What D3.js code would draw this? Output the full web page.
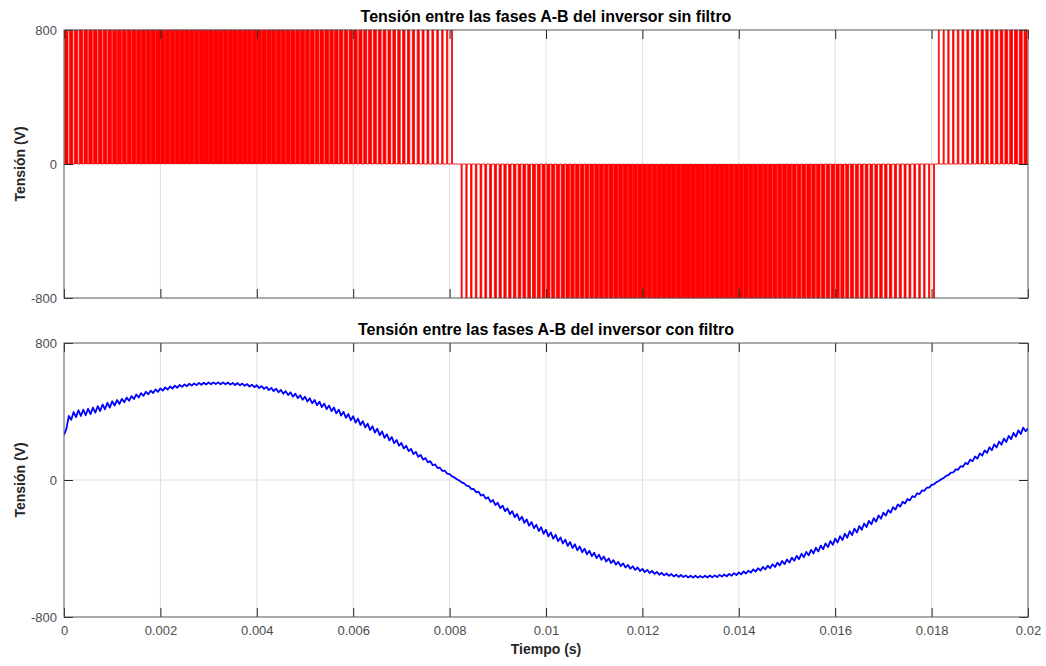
<!DOCTYPE html>
<html lang="es">
<head>
<meta charset="UTF-8">
<title>Tensión entre las fases A-B</title>
<script src="https://cdn.jsdelivr.net/npm/d3@7"></script>
<style>
    * { margin: 0; padding: 0; }
    body { background: #fff; }
    svg { display: block; font-family: "Liberation Sans", Arial, sans-serif; }
</style>
</head>
<body>
<svg></svg>
<script>
    // ---- data ----
    const xTicks = [0, 0.002, 0.004, 0.006, 0.008, 0.01, 0.012, 0.014, 0.016, 0.018, 0.02];
    const yTicks = [-800, 0, 800];
    const vdc = 800;             // pulse height (V)
    const pwmPeriod = 0.0001;    // one pulse slot per 0.1 ms
    // signed duty of each slot: + pulse to +800 V, - pulse to -800 V
    const pwmDuty = [
        .65, .66, .68, .69, .71, .72, .73, .75, .76, .77, .78, .79, .81, .82, .83, .84, .84, .85, .86, .86,
        .87, .87, .88, .88, .89, .89, .89, .90, .90, .90, .90, .90, .90, .90, .90, .89, .89, .89, .88, .88,
        .87, .87, .86, .86, .85, .85, .84, .83, .82, .81, .80, .79, .78, .77, .76, .74, .73, .72, .70, .69,
        .67, .66, .64, .62, .61, .59, .58, .56, .54, .52, .50, .48, .45, .43, .40, .38, .35, .32, .29, .25,
        .21, 0, -.22, -.26, -.29, -.33, -.36, -.38, -.41, -.44, -.46, -.48, -.50, -.52, -.55, -.57, -.58, -.60, -.61, -.63,
        -.65, -.66, -.68, -.69, -.71, -.72, -.73, -.75, -.76, -.77, -.78, -.79, -.81, -.82, -.83, -.84, -.84, -.85, -.86, -.86,
        -.87, -.87, -.88, -.88, -.89, -.89, -.89, -.90, -.90, -.90, -.90, -.90, -.90, -.90, -.90, -.89, -.89, -.89, -.88, -.88,
        -.87, -.87, -.86, -.86, -.85, -.85, -.84, -.83, -.82, -.81, -.80, -.79, -.78, -.77, -.76, -.74, -.73, -.72, -.70, -.69,
        -.67, -.66, -.64, -.62, -.61, -.59, -.58, -.56, -.54, -.52, -.50, -.48, -.45, -.43, -.40, -.38, -.35, -.32, -.29, -.25,
        -.21, .18, .22, .26, .29, .33, .36, .38, .41, .44, .46, .48, .50, .52, .55, .57, .58, .60, .61, .63
    ];
    const filtStep = 0.00005;    // filtered voltage sampled every 0.05 ms
    const filtV = [
        263, 300, 374, 352, 397, 367, 407, 374, 411, 378, 416, 385, 423, 393, 431, 403, 441, 413, 451, 423,
        460, 434, 467, 444, 474, 454, 481, 463, 490, 473, 499, 482, 507, 491, 515, 500, 522, 508, 529, 515,
        535, 522, 541, 528, 546, 534, 551, 539, 555, 544, 558, 548, 562, 551, 564, 554, 567, 556, 568, 558,
        570, 559, 570, 560, 570, 559, 570, 559, 569, 557, 567, 555, 566, 553, 563, 550, 560, 546, 557, 542,
        553, 537, 548, 532, 544, 525, 538, 519, 533, 512, 526, 504, 519, 496, 512, 487, 504, 478, 495, 469,
        486, 458, 477, 448, 467, 437, 457, 426, 446, 414, 435, 402, 423, 389, 411, 376, 398, 363, 385, 349,
        372, 335, 358, 321, 344, 307, 329, 292, 314, 277, 299, 262, 283, 246, 267, 231, 251, 215, 234, 200,
        217, 184, 200, 168, 182, 151, 164, 135, 146, 119, 128, 103, 110, 86, 91, 70, 72, 53, 54, 37,
        34, 21, 15, 4, -3, -14, -20, -33, -36, -53, -52, -72, -68, -91, -85, -109, -101, -128, -117, -146,
        -133, -164, -150, -182, -166, -199, -182, -217, -198, -234, -214, -250, -230, -267, -245, -282, -261, -298, -276, -314,
        -291, -329, -306, -343, -320, -357, -335, -371, -348, -385, -362, -397, -375, -410, -388, -422, -401, -434, -413, -445,
        -425, -456, -436, -466, -447, -476, -458, -485, -468, -494, -478, -503, -487, -511, -496, -518, -504, -525, -511, -532,
        -519, -538, -525, -543, -531, -548, -537, -553, -542, -557, -546, -560, -549, -563, -553, -566, -555, -567, -557, -569,
        -559, -570, -559, -570, -560, -570, -559, -569, -558, -568, -557, -567, -554, -564, -552, -562, -548, -559, -544, -555,
        -540, -551, -534, -546, -529, -541, -522, -535, -515, -529, -508, -522, -500, -515, -492, -508, -483, -499, -473, -491,
        -464, -482, -453, -472, -443, -462, -431, -451, -420, -440, -408, -429, -395, -417, -383, -404, -370, -392, -356, -379,
        -342, -365, -328, -351, -314, -337, -299, -322, -284, -307, -269, -291, -254, -275, -239, -259, -223, -243, -207, -226,
        -191, -208, -176, -191, -159, -173, -143, -155, -127, -137, -111, -119, -94, -100, -78, -82, -61, -63, -45, -44,
        -29, -25, -12, -6, 4, 12, 24, 28, 43, 44, 62, 60, 81, 77, 100, 93, 119, 109, 137, 125,
        155, 142, 173, 158, 191, 174, 208, 190, 225, 206, 242, 222, 258, 238, 275, 253, 290, 268, 306, 284,
        302
    ];

    // ---- layout ----
    const svg = d3.select('svg').attr('width', 1046).attr('height', 666);
    const left = 64, right = 1028;
    const panels = [
        { top: 30, bottom: 298, title: 'Tensión entre las fases A-B del inversor sin filtro', labels: false },
        { top: 343, bottom: 617, title: 'Tensión entre las fases A-B del inversor con filtro', labels: true }
    ];

    const x = d3.scaleLinear().domain([0, 0.02]).range([left, right]);

    // turn the duty list into step points
    const pwmPts = [[0, 0]];
    pwmDuty.forEach((d, k) => {
        if (d === 0) return;
        const on = k * pwmPeriod + (1 - Math.abs(d)) / 2 * pwmPeriod;
        const off = on + Math.abs(d) * pwmPeriod;
        const v = d > 0 ? vdc : -vdc;
        pwmPts.push([on, 0], [on, v], [off, v], [off, 0]);
    });
    pwmPts.push([0.02, 0]);

    const filtPts = filtV.map((v, i) => [i * filtStep, v]);

    panels.forEach((p, idx) => {
        const y = d3.scaleLinear().domain([-800, 800]).range([p.bottom, p.top]);
        const h = p.bottom - p.top;
        const g = svg.append('g');

        // grid
        g.selectAll('.vgrid').data(xTicks.slice(1, -1)).enter().append('line')
            .attr('x1', d => x(d)).attr('x2', d => x(d))
            .attr('y1', p.top).attr('y2', p.bottom)
            .attr('stroke', '#dedede').attr('stroke-width', 1);
        g.selectAll('.hgrid').data(yTicks.slice(1, -1)).enter().append('line')
            .attr('x1', left).attr('x2', right)
            .attr('y1', d => y(d)).attr('y2', d => y(d))
            .attr('stroke', '#dedede').attr('stroke-width', 1);

        svg.append('clipPath').attr('id', 'clip' + idx)
            .append('rect').attr('x', left).attr('y', p.top - 1).attr('width', right - left).attr('height', h + 2);

        const line = d3.line().x(d => x(d[0])).y(d => y(d[1]));
        if (idx === 0) {
            g.append('path').datum(pwmPts)
                .attr('clip-path', 'url(#clip0)')
                .attr('d', line)
                .attr('fill', '#ff0000')
                .attr('stroke', '#ff0000')
                .attr('stroke-width', 0.8);
        } else {
            g.append('path').datum(filtPts)
                .attr('clip-path', 'url(#clip1)')
                .attr('d', line)
                .attr('fill', 'none')
                .attr('stroke', '#0000ff')
                .attr('stroke-width', 1.8)
                .attr('stroke-linejoin', 'round');
        }

        // axes, ticks pointing inward
        const fmt = d => String(d);
        g.append('g').attr('transform', `translate(0,${p.bottom})`)
            .call(d3.axisBottom(x).tickValues(xTicks).tickSize(-9).tickSizeOuter(0).tickPadding(9)
                .tickFormat(p.labels ? fmt : ''));
        g.append('g').attr('transform', `translate(0,${p.top})`)
            .call(d3.axisTop(x).tickValues(xTicks).tickSize(-9).tickSizeOuter(0).tickFormat(''));
        g.append('g').attr('transform', `translate(${left},0)`)
            .call(d3.axisLeft(y).tickValues(yTicks).tickSize(-9).tickSizeOuter(0).tickPadding(7).tickFormat(fmt));
        g.append('g').attr('transform', `translate(${right},0)`)
            .call(d3.axisRight(y).tickValues(yTicks).tickSize(-9).tickSizeOuter(0).tickFormat(''));

        g.selectAll('.domain').remove();
        g.selectAll('.tick line').attr('stroke', '#262626').attr('stroke-width', 1);
        g.selectAll('.tick text').attr('fill', '#4d4d4d').attr('font-size', 13)
            .attr('font-family', '"Liberation Sans", Arial, sans-serif');

        g.append('rect')
            .attr('x', left).attr('y', p.top)
            .attr('width', right - left).attr('height', h)
            .attr('fill', 'none').attr('stroke', '#555').attr('stroke-width', 1);

        // title
        svg.append('text')
            .attr('x', (left + right) / 2).attr('y', p.top - 8)
            .attr('text-anchor', 'middle')
            .attr('font-size', 16).attr('font-weight', 'bold').attr('fill', '#000')
            .text(p.title);

        // y label
        svg.append('text')
            .attr('transform', `translate(25,${(p.top + p.bottom) / 2}) rotate(-90)`)
            .attr('text-anchor', 'middle')
            .attr('font-size', 14).attr('font-weight', 'bold').attr('fill', '#262626')
            .text('Tensión (V)');
    });

    svg.append('text')
        .attr('x', (left + right) / 2).attr('y', 654)
        .attr('text-anchor', 'middle')
        .attr('font-size', 14).attr('font-weight', 'bold').attr('fill', '#262626')
        .text('Tiempo (s)');
</script>
</body>
</html>
